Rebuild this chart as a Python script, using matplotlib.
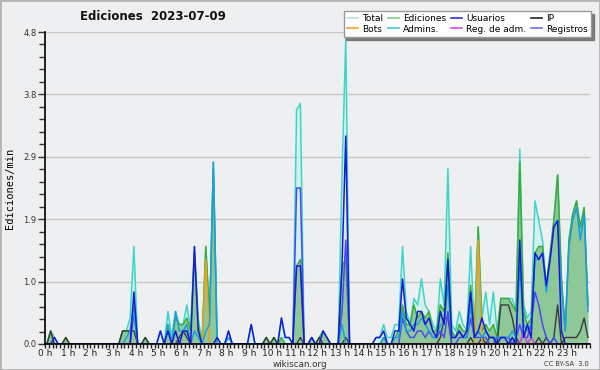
import numpy as np
import matplotlib
matplotlib.use("Agg")
import matplotlib.pyplot as plt
from matplotlib.lines import Line2D
from matplotlib.ticker import MultipleLocator, AutoMinorLocator, FixedLocator

# valores por tramo de 10 minutos (ediciones/min), 6 por hora
total = [0, 0.2, 0.1, 0, 0, 0.1,  0, 0, 0, 0, 0, 0,
         0, 0, 0, 0, 0, 0,  0, 0, 0.2, 0.2, 0.4, 1.5,
         0, 0, 0.1, 0, 0, 0,  0.2, 0, 0.5, 0.1, 0.5, 0.3,
         0.3, 0.6, 0.2, 1.5, 0.4, 0,  1.5, 0.4, 2.8, 0.1, 0, 0,
         0.2, 0, 0, 0, 0, 0,  0.3, 0, 0, 0, 0.1, 0,
         0.1, 0, 0.4, 0.1, 0.1, 0,  3.6, 3.7, 0, 0, 0.1, 0,
         0.1, 0.2, 0.1, 0, 0, 0,  2.6, 4.7, 0, 0, 0, 0,
         0, 0, 0, 0.1, 0.1, 0.3,  0.1, 0.1, 0.3, 0.3, 1.5, 0.5,
         0.3, 0.7, 0.6, 1.0, 0.6, 0.5,  0.3, 0.2, 1.0, 0.6, 2.7, 0.3,
         0.2, 0.5, 0.3, 0.2, 1.5, 0.2,  1.8, 0.4, 0.8, 0.3, 0.8, 0.2,
         0.7, 0.7, 0.7, 0.7, 0.5, 3.0,  0.6, 0.4, 0.5, 2.2, 1.9, 1.6,
         0.8, 1.3, 1.9, 2.6, 1.0, 0.2,  1.6, 2.0, 2.2, 1.7, 2.1, 0.6]
ediciones = [0, 0.2, 0, 0, 0, 0.1,  0, 0, 0, 0, 0, 0,
             0, 0, 0, 0, 0, 0,  0, 0, 0.2, 0.2, 0.2, 0.6,
             0, 0, 0.1, 0, 0, 0,  0, 0, 0.3, 0, 0.4, 0.3,
             0.3, 0.4, 0.2, 1.4, 0.3, 0,  1.5, 0.4, 2.7, 0, 0, 0,
             0, 0, 0, 0, 0, 0,  0, 0, 0, 0, 0.1, 0,
             0.1, 0, 0.1, 0, 0, 0,  1.2, 1.3, 0, 0, 0.1, 0,
             0.1, 0.2, 0.1, 0, 0, 0,  1.2, 1.3, 0, 0, 0, 0,
             0, 0, 0, 0, 0, 0.1,  0, 0, 0.1, 0.2, 0.6, 0.3,
             0.3, 0.6, 0.4, 0.5, 0.4, 0.5,  0.2, 0.2, 0.6, 0.5, 1.4, 0.2,
             0.1, 0.3, 0.2, 0.2, 0.9, 0.1,  1.8, 0.2, 0.3, 0.2, 0.3, 0.1,
             0.7, 0.7, 0.7, 0.6, 0.5, 2.8,  0.5, 0.3, 0.4, 1.4, 1.5, 1.5,
             0.9, 1.4, 1.9, 2.6, 1.0, 0.2,  1.6, 2.0, 2.2, 1.8, 2.1, 0.6]
usuarios = [0, 0, 0.1, 0, 0, 0,  0, 0, 0, 0, 0, 0,
            0, 0, 0, 0, 0, 0,  0, 0, 0, 0, 0, 0.8,
            0, 0, 0, 0, 0, 0,  0.2, 0, 0.2, 0, 0.2, 0,
            0.2, 0.2, 0, 1.5, 0.2, 0,  0, 0, 0, 0.1, 0, 0,
            0.2, 0, 0, 0, 0, 0,  0.3, 0, 0, 0, 0, 0,
            0, 0, 0.4, 0.1, 0.1, 0,  1.2, 1.2, 0, 0, 0.1, 0,
            0, 0.2, 0.1, 0, 0, 0,  1.2, 3.2, 0, 0, 0, 0,
            0, 0, 0, 0.1, 0.1, 0.2,  0, 0, 0.2, 0.2, 1.0, 0.4,
            0.3, 0.2, 0.5, 0.5, 0.3, 0.4,  0.2, 0.1, 0.5, 0.3, 1.3, 0.1,
            0.1, 0.2, 0.1, 0.2, 0.8, 0.1,  0.2, 0.4, 0.2, 0.1, 0.1, 0,
            0.1, 0.1, 0, 0.1, 0, 1.6,  0.1, 0.3, 0.1, 1.4, 1.3, 1.4,
            0.9, 1.3, 1.8, 1.9, 0.2, 0,  0, 0, 0, 0, 0, 0]
ip = [0, 0.2, 0, 0, 0, 0.1,  0, 0, 0, 0, 0, 0,
      0, 0, 0, 0, 0, 0,  0, 0, 0.2, 0.2, 0.2, 0.2,
      0, 0, 0.1, 0, 0, 0,  0, 0, 0, 0, 0, 0.1,
      0.2, 0.1, 0, 0, 0, 0,  0, 0, 0, 0, 0, 0,
      0, 0, 0, 0, 0, 0,  0, 0, 0, 0, 0.1, 0,
      0.1, 0, 0, 0, 0, 0,  0, 0.1, 0, 0, 0, 0,
      0.1, 0, 0, 0, 0, 0,  0, 0.1, 0, 0, 0, 0,
      0, 0, 0, 0, 0, 0,  0, 0, 0, 0, 0, 0,
      0, 0, 0, 0, 0, 0,  0, 0, 0.1, 0.4, 0.4, 0,
      0, 0, 0, 0, 0.1, 0,  0, 0.1, 0, 0.1, 0.1, 0,
      0.6, 0.6, 0.6, 0.4, 0.1, 0,  0, 0, 0, 0, 0.1, 0,
      0.1, 0, 0.1, 0.6, 0, 0.1,  0.1, 0.1, 0.1, 0.2, 0.4, 0.1]
bots = [0] * 144
bots[42] = 1.3
bots[114] = 1.6
admins = [0, 0, 0, 0, 0, 0,  0, 0, 0, 0, 0, 0,
          0, 0, 0, 0, 0, 0,  0, 0, 0, 0.1, 0.2, 0.5,
          0, 0, 0, 0, 0, 0,  0, 0, 0.3, 0, 0.5, 0.2,
          0.2, 0.3, 0, 0.2, 0.1, 0,  0.2, 0.3, 2.8, 0, 0, 0,
          0.1, 0, 0, 0, 0, 0,  0, 0, 0, 0, 0, 0,
          0, 0, 0, 0, 0, 0,  0, 0, 0, 0, 0, 0,
          0, 0, 0, 0, 0, 0,  0.3, 0, 0, 0, 0, 0,
          0, 0, 0, 0, 0, 0.1,  0, 0, 0.1, 0.1, 0.5, 0.2,
          0.2, 0.3, 0.3, 0.4, 0.3, 0.2,  0.1, 0.1, 0.3, 0.3, 0.9, 0.1,
          0.1, 0.2, 0.1, 0.1, 0.6, 0.1,  0.2, 0.1, 0.2, 0.1, 0.1, 0.1,
          0.1, 0.1, 0.1, 0.2, 0.1, 1.2,  0.3, 0.2, 0.3, 1.3, 1.3, 1.4,
          0.8, 1.3, 1.8, 1.9, 0.9, 0.2,  1.5, 1.9, 2.1, 1.6, 2.0, 0.5]
reg_adm = [0] * 144
reg_adm[126] = 0.2
reg_adm[128] = 0.1
registros = [0, 0, 0, 0, 0, 0,  0, 0, 0, 0, 0, 0,
             0, 0, 0, 0, 0, 0,  0, 0, 0, 0, 0, 0.5,
             0, 0, 0, 0, 0, 0,  0, 0, 0, 0, 0, 0,
             0, 0, 0, 0, 0, 0,  0, 0, 0, 0, 0, 0,
             0, 0, 0, 0, 0, 0,  0, 0, 0, 0, 0, 0,
             0, 0, 0, 0, 0, 0,  2.4, 2.4, 0, 0, 0, 0,
             0, 0, 0, 0, 0, 0,  0.5, 1.6, 0, 0, 0, 0,
             0, 0, 0, 0, 0, 0,  0, 0, 0, 0, 0.4, 0.2,
             0.1, 0.1, 0.2, 0.2, 0.1, 0.2,  0.1, 0.1, 0.2, 0.1, 0.5, 0,
             0, 0.1, 0.1, 0.1, 0.4, 0.1,  0.1, 0.1, 0.1, 0, 0, 0.1,
             0.1, 0.1, 0.1, 0, 0.1, 0.3,  0.1, 0.1, 0.3, 0.8, 0.6, 0.3,
             0.1, 0, 0.1, 0, 0, 0,  0, 0, 0, 0, 0, 0]

hour_labels = ["%d h" % h for h in range(24)]
y_max = 4.8

t = (np.arange(144) + 0.5) / 6.0
bg = "#eeeff0"

fig = plt.figure(figsize=(6, 3.7), dpi=100, facecolor=bg)
fig.patches.append(plt.Rectangle((0, 0), 1, 1, transform=fig.transFigure,
                                 fill=False, edgecolor="#b4b4b4", lw=2))
ax = fig.add_axes([0.075, 0.0703, 0.908, 0.8432], facecolor=bg)

# rellenos
ax.fill_between(t, total, color="#cfeeee", alpha=0.8, lw=0, zorder=1)
ax.fill_between(t, ediciones, color="#8ec898", lw=0, zorder=2)

# líneas
ax.plot(t, total, color="#3cd6c8", lw=1.1, zorder=3)
ax.plot(t, ediciones, color="#3aac3a", lw=1.1, zorder=4)
ax.plot(t, ip, color="#3a3a3a", lw=1.0, zorder=5)
ax.plot(t, bots, color="#f0a020", lw=1.1, zorder=6)
ax.plot(t, registros, color="#4a4af0", lw=1.1, zorder=7)
ax.plot(t, reg_adm, color="#d040e0", lw=1.1, zorder=8)
ax.plot(t, admins, color="#1e9ee0", lw=1.1, zorder=9)
ax.plot(t, usuarios, color="#1818d8", lw=1.1, zorder=10)

ax.set_xlim(0, 24)
ax.set_ylim(0, y_max)
yt = np.linspace(0, y_max, 6)
ax.yaxis.set_major_locator(FixedLocator(yt))
ax.set_yticklabels(["%.1f" % v for v in yt])
ax.yaxis.set_minor_locator(AutoMinorLocator(5))
ax.xaxis.set_major_locator(FixedLocator(range(24)))
ax.set_xticklabels(hour_labels)
ax.xaxis.set_minor_locator(MultipleLocator(1 / 6))
ax.grid(axis="y", which="major", color="#c8c8c8", lw=1, zorder=0)
ax.set_axisbelow(True)

for s in ["top", "right"]:
    ax.spines[s].set_visible(False)
ax.spines["left"].set_linewidth(1.2)
ax.spines["bottom"].set_linewidth(1.2)
ax.spines["left"].set_zorder(20)
ax.spines["bottom"].set_zorder(20)
ax.tick_params(axis="y", which="major", length=5, width=1, labelsize=6, colors="#333333", pad=1)
ax.tick_params(axis="y", which="minor", length=4, width=1, colors="#333333")
ax.tick_params(axis="x", which="both", length=3, width=1, labelsize=6.5, colors="#222222", pad=0.5)

ax.set_ylabel("Ediciones/min", family="DejaVu Sans Mono", fontsize=7.5, labelpad=6)
fig.text(0.255, 0.955, "Ediciones  2023-07-09", ha="center", va="center",
         fontsize=8.5, fontweight="bold", color="#111111")
fig.text(0.5, 0.016, "wikiscan.org", ha="center", va="center", fontsize=6.3, color="#333333")
fig.text(0.982, 0.016, "CC BY-SA  3.0", ha="right", va="center", fontsize=4.8, color="#333333")

handles = [
    Line2D([], [], color="#a8e8e0", lw=1.2, label="Total"),
    Line2D([], [], color="#f0a030", lw=1.2, label="Bots"),
    Line2D([], [], color="#80d080", lw=1.2, label="Ediciones"),
    Line2D([], [], color="#40c8e0", lw=1.2, label="Admins."),
    Line2D([], [], color="#3030e0", lw=1.2, label="Usuarios"),
    Line2D([], [], color="#d050e0", lw=1.2, label="Reg. de adm."),
    Line2D([], [], color="#222222", lw=1.2, label="IP"),
    Line2D([], [], color="#7070f0", lw=1.2, label="Registros"),
]
leg = fig.legend(handles=handles, ncol=4, loc="upper right", bbox_to_anchor=(0.985, 0.97),
                 fontsize=6.5, frameon=True, fancybox=False, shadow={"color": "#7a7a7a", "alpha": 1},
                 handlelength=1.2, handletextpad=0.5, columnspacing=0.5, labelspacing=0.15,
                 borderpad=0.35, borderaxespad=0)
leg.get_frame().set_edgecolor("#9a9a9a")
leg.get_frame().set_facecolor("white")
leg.get_frame().set_linewidth(1)

fig.savefig("out.png", dpi=100, facecolor=bg)
